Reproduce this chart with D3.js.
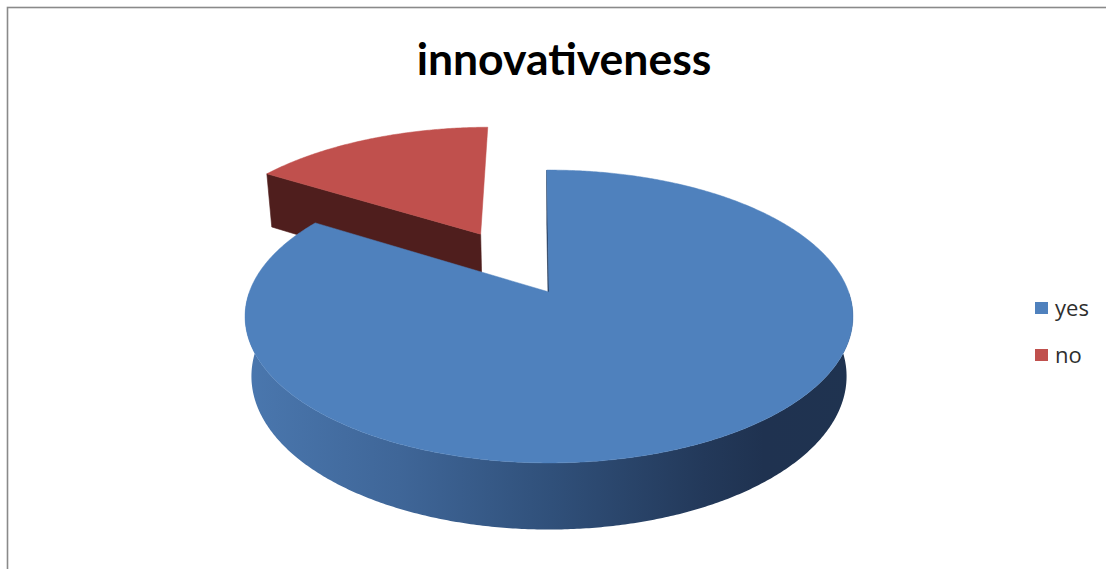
<!DOCTYPE html>
<html>
<head>
<meta charset="utf-8">
<script src="https://cdn.jsdelivr.net/npm/d3@7/dist/d3.min.js"></script>
<style>
  html, body { margin: 0; padding: 0; background: #fff; }
  svg { display: block; }
</style>
</head>
<body>
<svg id="chart" width="1106" height="569"></svg>
<script>
// Survey answers
const title = "innovativeness";
const categories = ["yes", "no"];
const values = [84, 16];
const explodeBy = [0, 0.5];          // fraction of the radius each slice is pulled out
const topColors = ["#4F81BD", "#C0504D"];
const cutColors = ["#1F3350", "#4F1E1D"];

const W = 1106, H = 569;
const svg = d3.select("#chart");

// frame
svg.append("rect")
  .attr("x", 7.5).attr("y", 7.5)
  .attr("width", W + 20).attr("height", H + 20)
  .attr("fill", "#fff").attr("stroke", "#8a8a8a").attr("stroke-width", 1.6);

// side shading, light on the left, dark on the right
const defs = svg.append("defs");
const grad = defs.append("linearGradient")
  .attr("id", "sideBlue").attr("gradientUnits", "userSpaceOnUse")
  .attr("x1", 247).attr("x2", 855).attr("y1", 0).attr("y2", 0);
[[0, "#4A77AE"], [0.25, "#3F6698"], [0.5, "#30507A"], [0.75, "#23395A"], [0.85, "#1F3250"], [1, "#1F3350"]]
  .forEach(([o, c]) => grad.append("stop").attr("offset", o).attr("stop-color", c));
const sideFill = ["url(#sideBlue)", "#7A2E2C"];

// perspective camera looking down on a disk of radius 1
const cam = { cx: 549, cy: 292, f: 1576, D: 5.26, tilt: Math.asin(0.475), depth: 0.229 };
const cosT = Math.cos(cam.tilt), sinT = Math.sin(cam.tilt);
function project(X, Y, Z) {
  const yc = Y * cosT + Z * sinT;
  const zc = cam.D + Z * cosT - Y * sinT;
  return [cam.cx + cam.f * X / zc, cam.cy - cam.f * yc / zc];
}
// unit vector toward the viewer, used to drop faces that turn away
const view = [0, sinT, -cosT];
const facing = n => n[0] * view[0] + n[1] * view[1] + n[2] * view[2] > 1e-4;

const rotation = -0.5 * Math.PI / 180;
const pie = d3.pie().sort(null).value(d => d)(values);
const line = d3.line();
const step = 0.5 * Math.PI / 180;

function drawSlice(g, d, i) {
  const a0 = d.startAngle + rotation, a1 = d.endAngle + rotation;
  const mid = (a0 + a1) / 2;
  const ox = explodeBy[i] * Math.sin(mid), oz = explodeBy[i] * Math.cos(mid);
  const h = cam.depth;
  const rim = (a, y) => project(ox + Math.sin(a), y, oz + Math.cos(a));
  const n = Math.max(2, Math.ceil((a1 - a0) / step));
  const angles = d3.range(n + 1).map(k => a0 + (a1 - a0) * k / n);

  // radial cut faces
  const cuts = [
    { a: a0, normal: [-Math.cos(a0), 0, Math.sin(a0)] },
    { a: a1, normal: [Math.cos(a1), 0, -Math.sin(a1)] }
  ];
  cuts.filter(c => facing(c.normal)).forEach(c => {
    const pts = [project(ox, 0, oz), rim(c.a, 0), rim(c.a, -h), project(ox, -h, oz)];
    g.append("path").attr("d", line(pts) + "Z")
      .attr("fill", cutColors[i]).attr("stroke", cutColors[i]).attr("stroke-width", 0.6);
  });

  // outer curved wall, split into runs that face the viewer
  const runs = [];
  let cur = null;
  angles.forEach(a => {
    if (facing([Math.sin(a), 0, Math.cos(a)])) {
      if (!cur) { cur = []; runs.push(cur); }
      cur.push(a);
    } else cur = null;
  });
  runs.filter(r => r.length > 1).forEach(r => {
    const pts = r.map(a => rim(a, 0)).concat(r.slice().reverse().map(a => rim(a, -h)));
    g.append("path").attr("d", line(pts) + "Z")
      .attr("fill", sideFill[i]).attr("stroke", "none");
  });

  // top face
  const topPts = [project(ox, 0, oz)].concat(angles.map(a => rim(a, 0)));
  g.append("path").attr("d", line(topPts) + "Z")
    .attr("fill", topColors[i]).attr("stroke", topColors[i]).attr("stroke-width", 0.5);
}

// farther slice first
const order = pie.map((d, i) => i).sort((p, q) => {
  const depth = j => {
    const m = (pie[j].startAngle + pie[j].endAngle) / 2 + rotation;
    return explodeBy[j] * Math.cos(m);
  };
  return depth(q) - depth(p);
});
const plot = svg.append("g");
order.forEach(i => drawSlice(plot.append("g").attr("class", "slice " + categories[i]), pie[i], i));

// title
svg.append("text")
  .attr("x", 564).attr("y", 75)
  .attr("text-anchor", "middle")
  .attr("font-family", "Lato, 'Open Sans', sans-serif")
  .attr("font-weight", 700).attr("font-size", 44.5)
  .attr("fill", "#000")
  .text(title);

// legend
const legend = svg.append("g").attr("transform", "translate(1035,302)");
const item = legend.selectAll("g").data(categories).join("g")
  .attr("transform", (d, i) => `translate(0,${i * 47})`);
item.append("rect").attr("width", 13).attr("height", 12)
  .attr("fill", (d, i) => topColors[i]);
item.append("text").attr("x", 20).attr("y", 14)
  .attr("font-family", "'Open Sans', sans-serif").attr("font-size", 22)
  .attr("fill", "#2e2e2e").text(d => d);
</script>
</body>
</html>
